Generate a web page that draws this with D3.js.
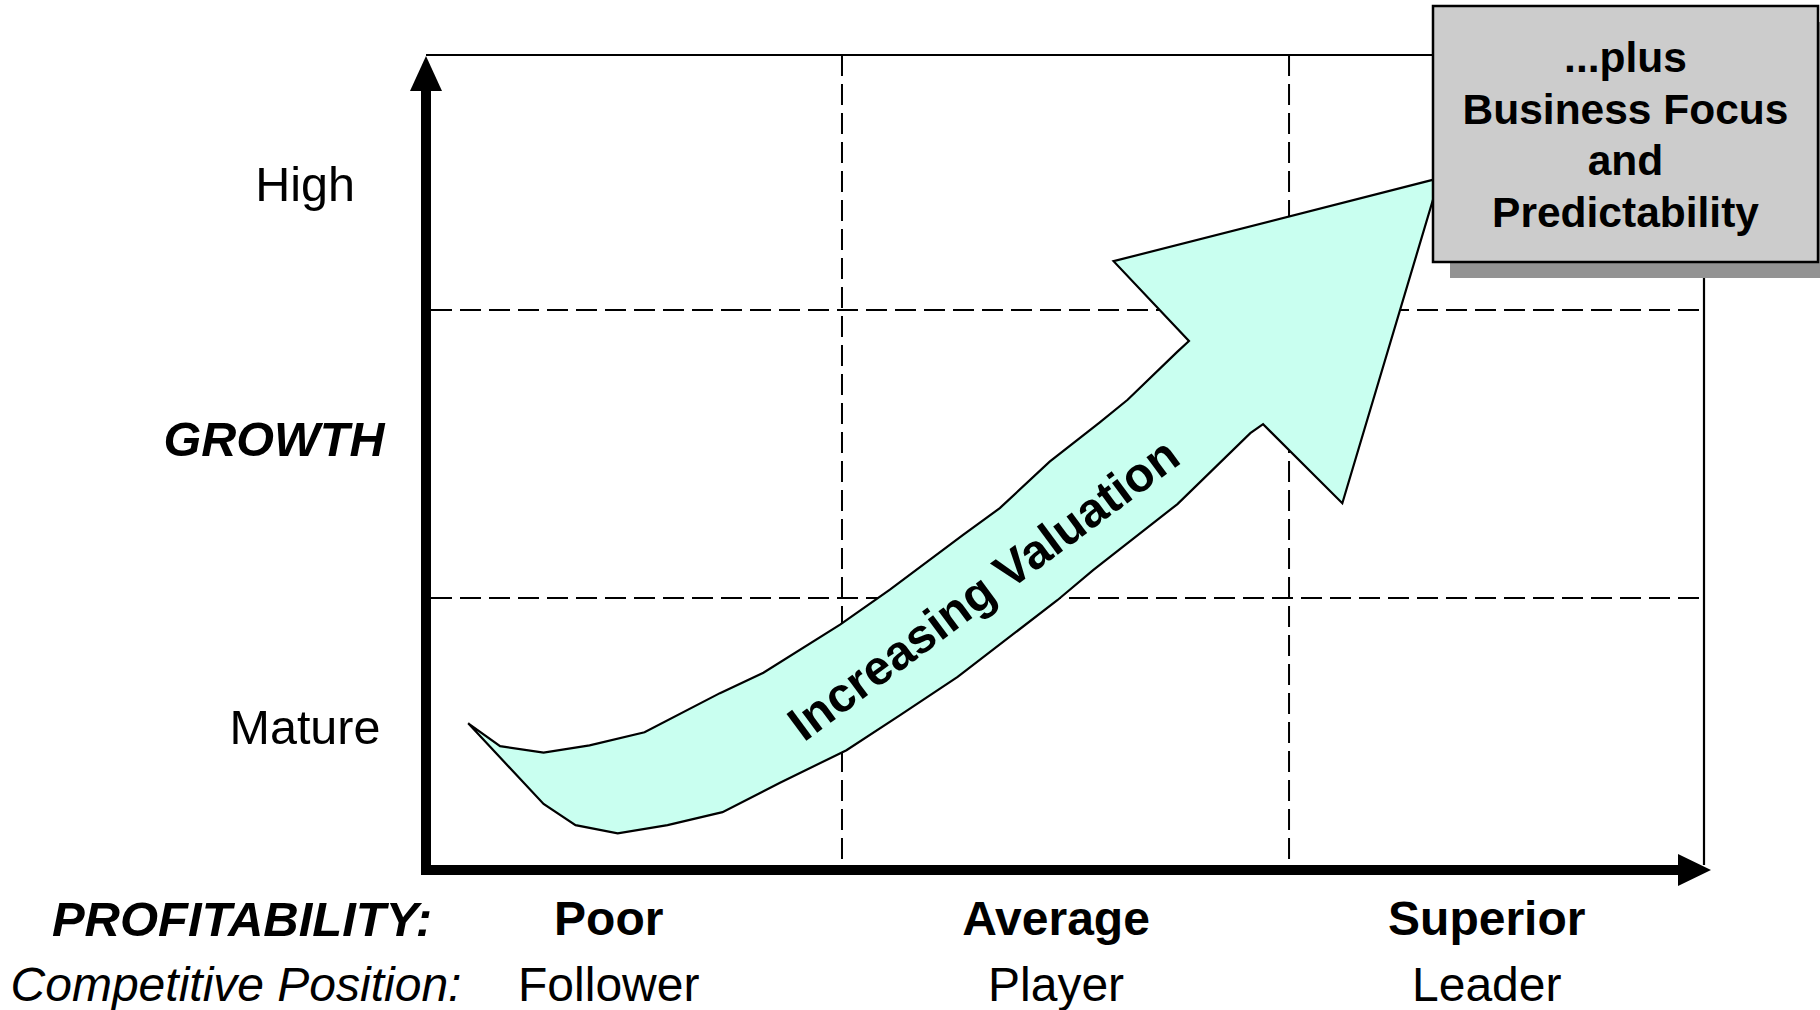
<!DOCTYPE html>
<html>
<head>
<meta charset="utf-8">
<script src="https://cdn.jsdelivr.net/npm/d3@7/dist/d3.min.js"></script>
<style>
  html, body { margin: 0; padding: 0; background: #ffffff; }
  svg { display: block; }
  text { font-family: "Liberation Sans", Arial, Helvetica, sans-serif; fill: #000; }
</style>
</head>
<body>
<svg id="chart" width="1820" height="1010"></svg>
<script>
// ---- Data -------------------------------------------------------------
// Profitability levels along the horizontal axis, with competitive position
const profitability = ["Poor", "Average", "Superior"];
const position = ["Follower", "Player", "Leader"];

// Growth levels along the vertical axis (bottom to top)
const growth = ["Mature", "", "High"];

// Grid divisions, in axis units (0–100 on both axes)
const xDividers = [32.55, 67.53];
const yDividers = [33.37, 68.71];

// "Increasing Valuation" arrow outline, in axis units [profitability, growth]
const valuationArrow = [
  [3.3, 18.0], [5.8, 15.2], [9.2, 14.4], [12.8, 15.3], [17.1, 16.9], [23.0, 21.7],
  [26.4, 24.2], [32.4, 30.1], [36.3, 34.4], [42.0, 41.1], [44.9, 44.4], [48.8, 50.1],
  [52.7, 54.9], [54.9, 57.7], [58.8, 63.6], [59.7, 64.9], [53.8, 74.7], [79.3, 84.9],
  [71.7, 45.0], [65.5, 54.7], [64.5, 53.6], [58.8, 44.9], [52.2, 36.8], [49.4, 33.1],
  [41.6, 23.7], [37.1, 19.0], [32.9, 14.7], [27.7, 10.7], [23.2, 7.1], [18.9, 5.5],
  [15.0, 4.5], [11.7, 5.5], [9.2, 8.1]
];
const arrowLabel = "Increasing Valuation";
const arrowLabelAt = [44.39, 32.83];

const calloutLines = ["...plus", "Business Focus", "and", "Predictability"];

// ---- Scales -----------------------------------------------------------
const svg = d3.select("#chart");
const x = d3.scaleLinear().domain([0, 100]).range([426, 1704]);
const y = d3.scaleLinear().domain([0, 100]).range([870, 55]);

// label columns sit a little left of each cell's centre
const colX = d3.scaleOrdinal().domain(profitability).range([x(14.3), x(49.3), x(83)]);
const rowY = d3.scaleBand().domain(growth).range([y(0), y(100)]).paddingInner(0);

// ---- Frame and dashed grid --------------------------------------------
const g = svg.append("g");

g.selectAll("line.vgrid").data(xDividers).join("line")
  .attr("class", "vgrid")
  .attr("x1", d => x(d)).attr("x2", d => x(d))
  .attr("y1", y(100)).attr("y2", y(0) - 5)
  .attr("stroke", "#000").attr("stroke-width", 2)
  .attr("stroke-dasharray", "21,8");

g.selectAll("line.hgrid").data(yDividers).join("line")
  .attr("class", "hgrid")
  .attr("x1", x(0) + 5).attr("x2", x(100))
  .attr("y1", d => y(d)).attr("y2", d => y(d))
  .attr("stroke", "#000").attr("stroke-width", 2)
  .attr("stroke-dasharray", "21,8");

// top and right border
g.append("path")
  .attr("d", `M${x(0)},${y(100)}H${x(100)}V${y(0) - 5}`)
  .attr("fill", "none").attr("stroke", "#000").attr("stroke-width", 2.2);

// ---- Valuation arrow ----------------------------------------------------
const outline = d3.line().x(d => x(d[0])).y(d => y(d[1])).curve(d3.curveLinearClosed);
g.append("path")
  .attr("d", outline(valuationArrow))
  .attr("fill", "#c9fff0")
  .attr("stroke", "#000")
  .attr("stroke-width", 2.2)
  .attr("stroke-linejoin", "miter");

g.append("text")
  .attr("transform", `translate(${x(arrowLabelAt[0])},${y(arrowLabelAt[1])}) rotate(-36.5)`)
  .attr("text-anchor", "middle")
  .style("font-weight", "bold")
  .style("font-size", "48.5px")
  .text(arrowLabel);

// ---- Axes (thick arrows) ------------------------------------------------
g.append("line")
  .attr("x1", x(0)).attr("x2", x(0))
  .attr("y1", y(0) + 5).attr("y2", y(100) + 34)
  .attr("stroke", "#000").attr("stroke-width", 10);
g.append("path")
  .attr("d", `M${x(0) - 16},${y(100) + 36}L${x(0) + 16},${y(100) + 36}L${x(0)},${y(100) + 1}Z`)
  .attr("fill", "#000");

g.append("line")
  .attr("x1", x(0) - 5).attr("x2", x(100) - 24)
  .attr("y1", y(0)).attr("y2", y(0))
  .attr("stroke", "#000").attr("stroke-width", 10);
g.append("path")
  .attr("d", `M${x(100) - 26},${y(0) - 16}L${x(100) - 26},${y(0) + 16}L${x(100) + 7},${y(0)}Z`)
  .attr("fill", "#000");

// ---- Axis labels ----------------------------------------------------------
g.selectAll("text.growth").data(growth.filter(d => d)).join("text")
  .attr("class", "growth")
  .attr("x", 305)
  .attr("y", d => rowY(d) + rowY.bandwidth() / 2 + 10)
  .attr("text-anchor", "middle")
  .style("font-size", "48.5px")
  .text(d => d);

g.append("text")
  .attr("x", 274).attr("y", 456)
  .attr("text-anchor", "middle")
  .style("font-size", "48.5px").style("font-weight", "bold").style("font-style", "italic")
  .text("GROWTH");

g.append("text")
  .attr("x", 242).attr("y", 936)
  .attr("text-anchor", "middle")
  .style("font-size", "49px").style("font-weight", "bold").style("font-style", "italic")
  .text("PROFITABILITY:");

g.append("text")
  .attr("x", 236).attr("y", 1001)
  .attr("text-anchor", "middle")
  .style("font-size", "48px").style("font-style", "italic")
  .text("Competitive Position:");

g.selectAll("text.profit").data(profitability).join("text")
  .attr("class", "profit")
  .attr("x", d => colX(d))
  .attr("y", 935)
  .attr("text-anchor", "middle")
  .style("font-size", "48px").style("font-weight", "bold")
  .text(d => d);

g.selectAll("text.pos").data(position).join("text")
  .attr("class", "pos")
  .attr("x", (d, i) => colX(profitability[i]))
  .attr("y", 1001)
  .attr("text-anchor", "middle")
  .style("font-size", "48px")
  .text(d => d);

// ---- Callout box ----------------------------------------------------------
const box = { x: 1433, y: 6, w: 385, h: 256 };
g.append("rect")
  .attr("x", box.x + 17).attr("y", box.y + 16)
  .attr("width", box.w).attr("height", box.h)
  .attr("fill", "#939393");
g.append("rect")
  .attr("x", box.x).attr("y", box.y)
  .attr("width", box.w).attr("height", box.h)
  .attr("fill", "#cccccc")
  .attr("stroke", "#000").attr("stroke-width", 2.5);
g.selectAll("text.callout").data(calloutLines).join("text")
  .attr("class", "callout")
  .attr("x", box.x + box.w / 2)
  .attr("y", (d, i) => 72 + i * 51.7)
  .attr("text-anchor", "middle")
  .style("font-size", "42.5px").style("font-weight", "bold")
  .text(d => d);
</script>
</body>
</html>
